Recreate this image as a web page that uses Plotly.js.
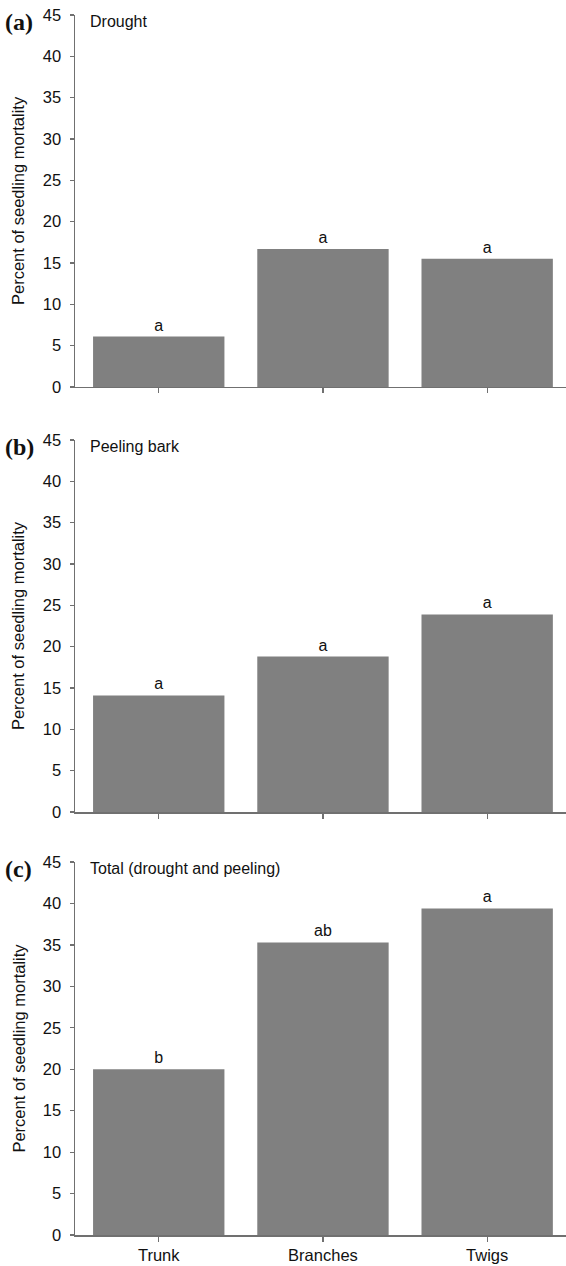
<!DOCTYPE html>
<html>
<head>
<meta charset="utf-8">
<script src="https://cdn.plot.ly/plotly-3.0.1.min.js"></script>
<style>
html,body{margin:0;padding:0;background:#fff;}
#chart{width:566px;height:1266px;}
</style>
</head>
<body>
<div id="chart"></div>
<script>
// ---- data ----
const categories = ['Trunk', 'Branches', 'Twigs'];
const drought = [6.1, 16.7, 15.5];
const peeling = [14.1, 18.8, 23.9];
const total = [20.0, 35.3, 39.4];
const droughtLetters = ['a', 'a', 'a'];
const peelingLetters = ['a', 'a', 'a'];
const totalLetters = ['b', 'ab', 'a'];
const panelTags = ['(a)', '(b)', '(c)'];
const panelTitles = ['Drought', 'Peeling bark', 'Total (drought and peeling)'];
const yTitle = 'Percent of seedling mortality';

const FONT = 'Liberation Sans, Arial, sans-serif';
const BAR = '#808080';
const AXC = '#707070';

const series = [drought, peeling, total];
const letters = [droughtLetters, peelingLetters, totalLetters];
const axSuffix = ['', '2', '3'];
const domains = [[0.6951, 1.0], [0.3467, 0.6516], [0.0, 0.3057]];

const traces = series.map((vals, i) => ({
  type: 'bar',
  x: categories,
  y: vals,
  text: letters[i],
  textposition: 'outside',
  cliponaxis: false,
  textfont: {family: FONT, size: 16, color: '#111'},
  marker: {color: BAR, line: {width: 0}},
  xaxis: 'x' + axSuffix[i],
  yaxis: 'y' + axSuffix[i],
  hoverinfo: 'x+y',
  showlegend: false
}));

const layout = {
  width: 566, height: 1266,
  margin: {l: 75, r: 0, t: 15, b: 31},
  paper_bgcolor: '#fff', plot_bgcolor: '#fff',
  bargap: 0.2,
  font: {family: FONT, size: 16, color: '#111'},
  showlegend: false,
  annotations: []
};

for (let i = 0; i < 3; i++) {
  const s = axSuffix[i];
  layout['xaxis' + s] = {
    domain: [0, 1], anchor: 'y' + s,
    type: 'category', range: [-0.51, 2.48],
    showline: true, linecolor: AXC, linewidth: 1.5,
    ticks: 'outside', ticklen: 5, tickcolor: AXC, tickwidth: 1.2,
    showticklabels: i === 2,
    tickfont: {family: FONT, size: 16.5, color: '#111'},
    showgrid: false, zeroline: false, fixedrange: true
  };
  layout['yaxis' + s] = {
    domain: domains[i], anchor: 'x' + s,
    range: [0, 45], dtick: 5, tick0: 0,
    showline: true, linecolor: AXC, linewidth: 1.5,
    ticks: 'outside', ticklen: 4, tickcolor: AXC, tickwidth: 1.2,
    ticklabelstandoff: 5,
    tickfont: {family: FONT, size: 16.5, color: '#111'},
    showgrid: false, zeroline: false, fixedrange: true
  };
  // overlay axes to make ticks cross the axis line
  const oy = String(4 + i);
  layout['yaxis' + oy] = {
    overlaying: 'y' + s, anchor: 'x' + s, side: 'left',
    range: [0, 45], dtick: 5, tick0: 0,
    ticks: 'inside', ticklen: 4, tickcolor: AXC, tickwidth: 1.2,
    showticklabels: false, showline: false, showgrid: false, zeroline: false, fixedrange: true
  };
  layout['xaxis' + oy] = {
    overlaying: 'x' + s, anchor: 'y' + s, side: 'bottom',
    type: 'category', range: [-0.51, 2.48],
    categoryarray: categories, categoryorder: 'array',
    tickvals: categories,
    ticks: 'inside', ticklen: 4, tickcolor: AXC, tickwidth: 1.2,
    showticklabels: false, showline: false, showgrid: false, zeroline: false, fixedrange: true
  };

  const top = domains[i][1];
  const mid = (domains[i][0] + domains[i][1]) / 2;
  // panel tag
  layout.annotations.push({
    xref: 'paper', yref: 'paper', x: -0.147, y: top - 0.0055,
    xanchor: 'left', yanchor: 'middle', showarrow: false,
    text: '<b>' + panelTags[i] + '</b>',
    font: {family: 'Liberation Serif, Times New Roman, serif', size: 24, color: '#111'}
  });
  // panel title
  layout.annotations.push({
    xref: 'paper', yref: 'paper', x: 0.027, y: top - 0.005,
    xanchor: 'left', yanchor: 'middle', showarrow: false,
    text: panelTitles[i],
    font: {family: FONT, size: 16, color: '#111'}
  });
  // y title
  layout.annotations.push({
    xref: 'paper', yref: 'paper', x: -0.116, y: mid,
    xanchor: 'center', yanchor: 'middle', showarrow: false,
    textangle: -90,
    text: yTitle,
    font: {family: FONT, size: 16.5, color: '#111'}
  });
}

Plotly.newPlot('chart', traces, layout, {staticPlot: true, displayModeBar: false});
</script>
</body>
</html>
